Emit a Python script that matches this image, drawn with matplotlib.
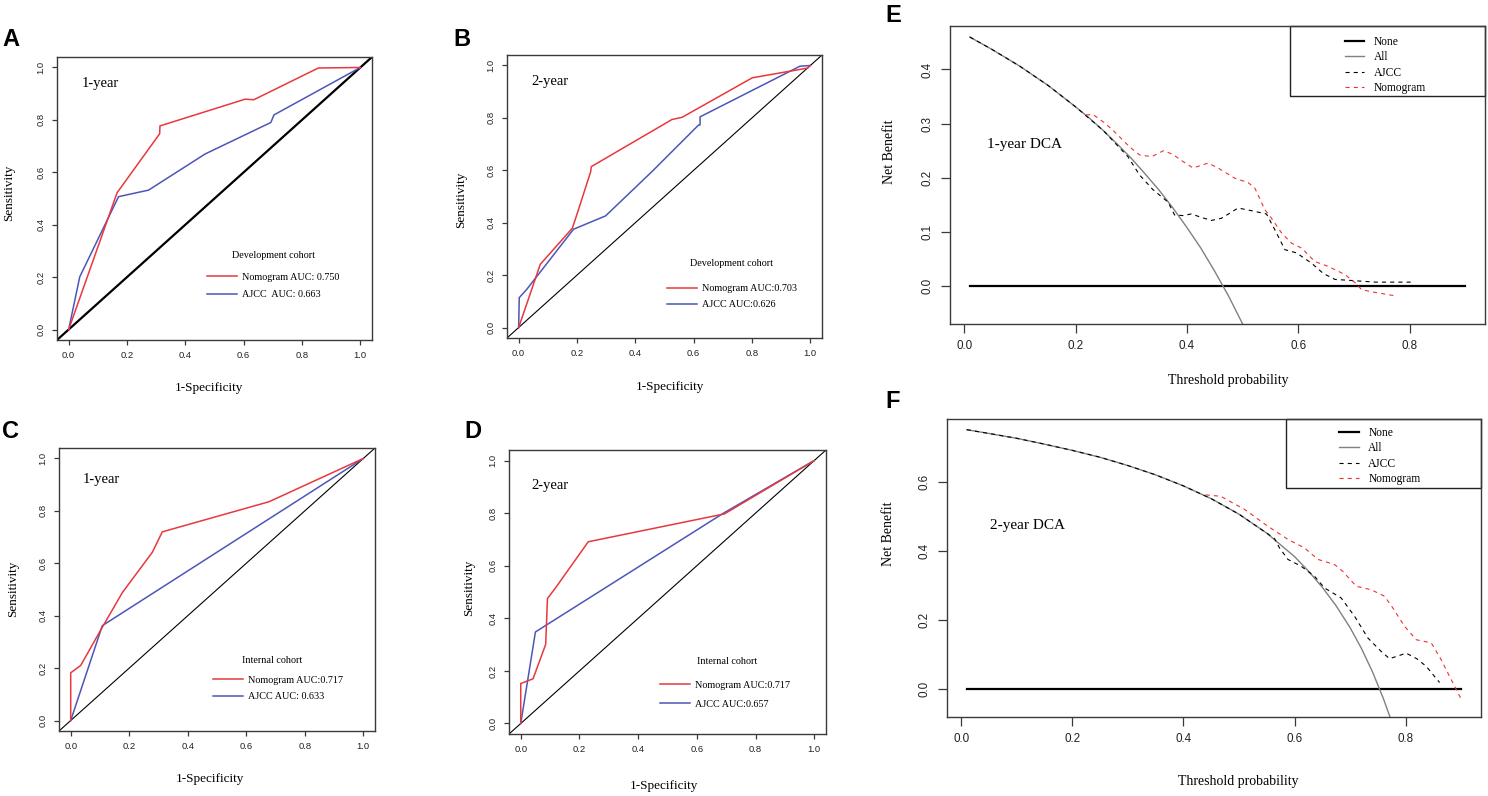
import matplotlib.pyplot as plt
from matplotlib.patches import Rectangle

plt.rcParams['font.family'] = ['Liberation Serif', 'DejaVu Serif']

# ROC curves: 1-Specificity (x) and Sensitivity (y)
a_nomo_x = [0, 0.166, 0.312, 0.313, 0.605, 0.635, 0.856, 1.0]
a_nomo_y = [0, 0.522, 0.747, 0.777, 0.879, 0.877, 0.998, 1.0]
a_ajcc_x = [0, 0.038, 0.171, 0.274, 0.468, 0.693, 0.704, 1.0]
a_ajcc_y = [0, 0.201, 0.507, 0.532, 0.670, 0.790, 0.819, 1.0]

b_nomo_x = [0, 0.074, 0.184, 0.201, 0.247, 0.249, 0.526, 0.560, 0.801, 0.990, 1.0]
b_nomo_y = [0, 0.241, 0.379, 0.436, 0.595, 0.614, 0.794, 0.802, 0.953, 0.990, 1.0]
b_ajcc_x = [0, 0.002, 0.028, 0.188, 0.298, 0.457, 0.617, 0.622, 0.622, 0.964, 1.0]
b_ajcc_y = [0, 0.114, 0.146, 0.375, 0.426, 0.595, 0.773, 0.773, 0.804, 0.997, 1.0]

c_nomo_x = [0, 0, 0.034, 0.108, 0.177, 0.279, 0.313, 0.678, 1.0]
c_nomo_y = [0, 0.182, 0.210, 0.356, 0.489, 0.642, 0.720, 0.835, 1.0]
c_ajcc_x = [0, 0.108, 1.0]
c_ajcc_y = [0, 0.362, 1.0]

d_nomo_x = [0, 0, 0.042, 0.085, 0.091, 0.120, 0.230, 0.694, 1.0]
d_nomo_y = [0, 0.152, 0.170, 0.301, 0.475, 0.518, 0.691, 0.797, 1.0]
d_ajcc_x = [0, 0.050, 0.691, 1.0]
d_ajcc_y = [0, 0.348, 0.800, 1.0]

# decision curves: threshold probability and net benefit
none_t = [0.01, 0.90]
none_nb = [0.0, 0.0]

e_all_t = [0.01, 0.05, 0.10, 0.15, 0.20, 0.225, 0.25, 0.275, 0.30, 0.325, 0.35,
           0.375, 0.40, 0.425, 0.45, 0.475, 0.50]
e_all_nb = [0.460, 0.437, 0.406, 0.371, 0.331, 0.310, 0.287, 0.262, 0.236, 0.207,
            0.177, 0.144, 0.108, 0.070, 0.027, -0.019, -0.070]
e_ajcc_t = [0.01, 0.05, 0.10, 0.15, 0.20, 0.25, 0.294, 0.315, 0.339, 0.366, 0.378,
            0.393, 0.408, 0.425, 0.444, 0.462, 0.478, 0.492, 0.516, 0.543, 0.561,
            0.576, 0.597, 0.624, 0.645, 0.666, 0.696, 0.738, 0.807]
e_ajcc_nb = [0.460, 0.437, 0.406, 0.371, 0.331, 0.287, 0.239, 0.205, 0.178, 0.155,
             0.131, 0.130, 0.133, 0.127, 0.121, 0.125, 0.135, 0.144, 0.139, 0.133,
             0.098, 0.067, 0.061, 0.042, 0.023, 0.012, 0.010, 0.007, 0.007]
e_nomo_t = [0.219, 0.231, 0.250, 0.267, 0.297, 0.315, 0.337, 0.358, 0.375, 0.390,
            0.411, 0.438, 0.456, 0.486, 0.510, 0.522, 0.540, 0.552, 0.570, 0.588,
            0.606, 0.630, 0.654, 0.684, 0.702, 0.714, 0.738, 0.778]
e_nomo_nb = [0.316, 0.317, 0.303, 0.288, 0.257, 0.242, 0.239, 0.250, 0.243, 0.232,
             0.218, 0.227, 0.218, 0.199, 0.191, 0.181, 0.141, 0.125, 0.098, 0.079,
             0.070, 0.045, 0.036, 0.021, 0.006, -0.007, -0.012, -0.019]

f_all_t = [0.01, 0.05, 0.10, 0.15, 0.20, 0.25, 0.30, 0.35, 0.40, 0.45, 0.50, 0.55,
           0.60, 0.625, 0.65, 0.675, 0.70, 0.72, 0.74, 0.76, 0.772]
f_all_nb = [0.751, 0.740, 0.726, 0.709, 0.691, 0.671, 0.647, 0.620, 0.588, 0.551,
            0.506, 0.451, 0.383, 0.341, 0.294, 0.240, 0.177, 0.118, 0.050, -0.029,
            -0.083]
f_ajcc_t = [0.01, 0.05, 0.10, 0.15, 0.20, 0.25, 0.30, 0.35, 0.40, 0.45, 0.50, 0.55,
            0.564, 0.573, 0.588, 0.612, 0.636, 0.654, 0.684, 0.708, 0.732, 0.756,
            0.771, 0.786, 0.801, 0.820, 0.837, 0.861]
f_ajcc_nb = [0.751, 0.740, 0.726, 0.709, 0.691, 0.671, 0.647, 0.620, 0.588, 0.551,
             0.506, 0.451, 0.435, 0.408, 0.375, 0.355, 0.326, 0.292, 0.263, 0.210,
             0.147, 0.108, 0.087, 0.095, 0.103, 0.087, 0.065, 0.018]
f_nomo_t = [0.440, 0.467, 0.510, 0.552, 0.588, 0.618, 0.642, 0.672, 0.687, 0.711,
            0.738, 0.762, 0.777, 0.798, 0.819, 0.846, 0.864, 0.882, 0.899]
f_nomo_nb = [0.562, 0.558, 0.520, 0.471, 0.433, 0.408, 0.375, 0.360, 0.340, 0.297,
             0.287, 0.268, 0.234, 0.181, 0.142, 0.133, 0.084, 0.026, -0.027]

roc_ticks = [0.0, 0.2, 0.4, 0.6, 0.8, 1.0]

W, H = 1488, 796
fig = plt.figure(figsize=(W / 100, H / 100), dpi=100)


def box(l, t, r, b):
    return [l / W, 1 - b / H, (r - l) / W, (b - t) / H]


def r_frame(ax, xt, yt, size, ticklen, pad):
    for s in ax.spines.values():
        s.set_color('#3a3a3a')
        s.set_linewidth(1.0)
    ax.set_xticks(xt, ['%.1f' % v for v in xt], fontfamily='Liberation Sans',
                  fontsize=size, color='#222222')
    ax.set_yticks(yt, ['%.1f' % v for v in yt], fontfamily='Liberation Sans',
                  fontsize=size, color='#222222', rotation=90, va='center')
    ax.tick_params(direction='out', length=ticklen, width=0.9, color='#3a3a3a', pad=pad)


def roc_panel(pos, nx, ny, ax_, ay_, labels, period, cohort, txt_xy, title_xy,
              leg_xy, spacing, ylab_xy, xlab_xy, diag_lw):
    ax = fig.add_axes(box(*pos))
    ax.axline((0, 0), (1, 1), color='black', lw=diag_lw, zorder=1)
    ax.plot(nx, ny, color='#E8383D', lw=1.1, label=labels[0], zorder=3)
    ax.plot(ax_, ay_, color='#4C56B8', lw=1.1, label=labels[1], zorder=2)
    ax.set_xlim(-0.04, 1.04)
    ax.set_ylim(-0.04, 1.04)
    r_frame(ax, roc_ticks, roc_ticks, 6.8, 3.6, 4.5)
    ax.text(txt_xy[0], txt_xy[1], period, fontsize=10.5, ha='left', va='center')
    ax.text(title_xy[0], title_xy[1], cohort, fontsize=7.3, ha='center', va='center',
            transform=ax.transAxes)
    ax.legend(loc='upper left', bbox_to_anchor=leg_xy, frameon=False,
              fontsize=7.3, handlelength=3.0, handletextpad=0.5,
              labelspacing=spacing, borderpad=0, borderaxespad=0)
    ax.set_ylabel('Sensitivity', fontsize=9.5, ha='center', va='center')
    ax.yaxis.set_label_coords(*ylab_xy)
    ax.set_xlabel('1-Specificity', fontsize=9.5, ha='center', va='center')
    ax.xaxis.set_label_coords(*xlab_xy)
    return ax


roc_panel((57, 57, 372, 340), a_nomo_x, a_nomo_y, a_ajcc_x, a_ajcc_y,
          ['Nomogram AUC: 0.750', 'AJCC  AUC: 0.663'], '1-year', 'Development cohort',
          (0.046, 0.94), (0.686, 0.30), (0.476, 0.237), 0.8,
          (-0.152, 0.52), (0.483, -0.17), 1.6)
roc_panel((507, 55, 822, 338), b_nomo_x, b_nomo_y, b_ajcc_x, b_ajcc_y,
          ['Nomogram AUC:0.703', 'AJCC AUC:0.626'], '2-year', 'Development cohort',
          (0.042, 0.938), (0.713, 0.265), (0.507, 0.190), 0.67,
          (-0.145, 0.487), (0.517, -0.173), 0.8)
roc_panel((59, 448, 375, 731), c_nomo_x, c_nomo_y, c_ajcc_x, c_ajcc_y,
          ['Nomogram AUC:0.717', 'AJCC AUC: 0.633'], '1-year', 'Internal cohort',
          (0.04, 0.921), (0.674, 0.248), (0.486, 0.195), 0.73,
          (-0.144, 0.501), (0.479, -0.171), 0.8)
roc_panel((509, 450, 826, 734), d_nomo_x, d_nomo_y, d_ajcc_x, d_ajcc_y,
          ['Nomogram AUC:0.717', 'AJCC AUC:0.657'], '2-year', 'Internal cohort',
          (0.037, 0.905), (0.689, 0.256), (0.476, 0.187), 0.93,
          (-0.126, 0.515), (0.49, -0.184), 0.8)


def dca_panel(pos, all_t, all_nb, aj_t, aj_nb, no_t, no_nb, ylim, yt, title,
              txt_xy, rect_xy, leg_xy, ylab_xy, xlab_xy):
    ax = fig.add_axes(box(*pos))
    ax.plot(none_t, none_nb, color='black', lw=1.6, label='None')
    ax.plot(all_t, all_nb, color='#808080', lw=1.0, label='All')
    ax.plot(aj_t, aj_nb, color='black', lw=0.8, ls=(0, (3.7, 3.7)), label='AJCC')
    ax.plot(no_t, no_nb, color='#F23030', lw=0.8, ls=(0, (3.7, 3.7)), label='Nomogram')
    ax.set_xlim(-0.0256, 0.9356)
    ax.set_ylim(*ylim)
    r_frame(ax, [0.0, 0.2, 0.4, 0.6, 0.8], yt, 8.4, 6.3, 5.5)
    ax.text(txt_xy[0], txt_xy[1], title, fontsize=11, ha='left', va='center')
    ax.add_patch(Rectangle(rect_xy, 1 - rect_xy[0], 1 - rect_xy[1], transform=ax.transAxes,
                           fill=False, edgecolor='#222222', lw=1.0, clip_on=False))
    ax.legend(loc='upper left', bbox_to_anchor=leg_xy, frameon=False, fontsize=8.3,
              handlelength=1.7, handletextpad=0.8, labelspacing=0.3, borderpad=0,
              borderaxespad=0)
    ax.set_ylabel('Net Benefit', fontsize=10, ha='center', va='center')
    ax.yaxis.set_label_coords(*ylab_xy)
    ax.set_xlabel('Threshold probability', fontsize=10, ha='center', va='center')
    ax.xaxis.set_label_coords(*xlab_xy)
    return ax


dca_panel((950, 26, 1485, 324), e_all_t, e_all_nb, e_ajcc_t, e_ajcc_nb, e_nomo_t, e_nomo_nb,
          (-0.0704, 0.4804), [0.0, 0.1, 0.2, 0.3, 0.4], '1-year DCA',
          (0.04, 0.262), (0.636, 0.765), (0.738, 0.967), (-0.114, 0.578), (0.52, -0.188))
dca_panel((947, 419, 1481, 717), f_all_t, f_all_nb, f_ajcc_t, f_ajcc_nb, f_nomo_t, f_nomo_nb,
          (-0.082, 0.782), [0.0, 0.2, 0.4, 0.6], '2-year DCA',
          (0.051, 0.474), (0.635, 0.767), (0.735, 0.974), (-0.109, 0.614), (0.545, -0.216))

# panel letters
for letter, x, y in [('A', 2, 40), ('B', 453, 39), ('C', 2, 431), ('D', 464, 431),
                     ('E', 885, 15), ('F', 885, 401)]:
    fig.text(x / W, 1 - y / H, letter, fontfamily='Liberation Sans', fontweight='bold',
             fontsize=17, ha='left', va='center')

fig.savefig('out.png', dpi=100)
